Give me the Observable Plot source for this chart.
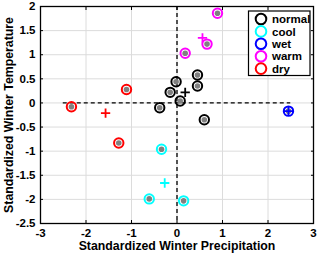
<!DOCTYPE html>
<html><head><meta charset="utf-8">
<script src="https://cdn.jsdelivr.net/npm/d3@7"></script>
<script src="https://cdn.jsdelivr.net/npm/@observablehq/plot@0.6"></script>
<style>
html,body{margin:0;padding:0;background:#fff;}
#chart{position:relative;width:320px;height:256px;}
</style>
</head><body><div id="chart"></div>
<script>
const categories = ["normal","cool","wet","warm","dry"];
const colors = ["#000000","#00ffff","#0000ff","#ff00ff","#ff0000"];

const normalX = [-0.02, 0.45, 0.45, -0.15, 0.07, -0.38, 0.60];
const normalY = [0.44, 0.58, 0.35, 0.22, 0.04, -0.10, -0.35];
const coolX = [-0.34, -0.61, 0.145];
const coolY = [-0.96, -1.99, -2.03];
const wetX = [2.45];
const wetY = [-0.17];
const warmX = [0.89, 0.66, 0.18];
const warmY = [1.86, 1.22, 1.03];
const dryX = [-2.32, -1.11, -1.28];
const dryY = [-0.08, 0.28, -0.83];

const meanX = [0.18, -0.27, 2.45, 0.56, -1.57];
const meanY = [0.22, -1.66, -0.17, 1.35, -0.21];

const xTicks = [-3,-2,-1,0,1,2,3];
const yTicks = [-2.5,-2,-1.5,-1,-0.5,0,0.5,1,1.5,2];
const refLineSpan = [-2.5, 2.5];
const xLabel = "Standardized Winter Precipitation";
const yLabel = "Standardized Winter Temperature";

const seriesX = [normalX, coolX, wetX, warmX, dryX];
const seriesY = [normalY, coolY, wetY, warmY, dryY];
const points = [];
categories.forEach((c,i)=>seriesX[i].forEach((x,j)=>points.push({cat:c,x,y:seriesY[i][j]})));
const means = categories.map((c,i)=>({cat:c,x:meanX[i],y:meanY[i]}));

const font = "'Liberation Sans', Arial, sans-serif";
const plot = Plot.plot({
  width: 320, height: 256,
  marginLeft: 40, marginRight: 7, marginTop: 6, marginBottom: 33,
  style: {fontFamily: font, fontSize: "11.5px", fontWeight: "bold", color: "#000", background: "#fff"},
  x: {domain: [-3,3]},
  y: {domain: [-2.5,2]},
  color: {domain: categories, range: colors},
  marks: [
    Plot.ruleX(xTicks, {stroke: "#dcdcdc", strokeWidth: 1}),
    Plot.ruleY(yTicks, {stroke: "#dcdcdc", strokeWidth: 1}),
    Plot.ruleY([0], {x1: refLineSpan[0], x2: refLineSpan[1], stroke: "#000", strokeWidth: 1.3, strokeDasharray: "4,3"}),
    Plot.ruleX([0], {stroke: "#000", strokeWidth: 1.3, strokeDasharray: "4,3"}),
    Plot.axisX({ticks: xTicks, tickSize: -3, tickPadding: 8, tickFormat: d => String(d), label: null}),
    Plot.axisX({anchor: "top", ticks: xTicks, tickSize: -3, tickFormat: () => "", label: null}),
    Plot.axisY({ticks: yTicks, tickSize: -3, tickPadding: 8, tickFormat: d => String(d), label: null}),
    Plot.axisY({anchor: "right", ticks: yTicks, tickSize: -3, tickFormat: () => "", label: null}),
    Plot.text([xLabel], {frameAnchor: "bottom", dy: 23, lineAnchor: "middle", textAnchor: "middle", text: d => d, fontSize: 12.3, fontWeight: "bold", fill: "#000"}),
    Plot.text([yLabel], {frameAnchor: "left", dx: -31, rotate: -90, lineAnchor: "middle", textAnchor: "middle", text: d => d, fontSize: 12.3, fontWeight: "bold", fill: "#000"}),
    Plot.frame({stroke: "#000", strokeWidth: 1.3}),
    Plot.dot(points, {x: "x", y: "y", r: 4.7, stroke: "cat", strokeWidth: 2, fill: "none"}),
    Plot.dot(points, {x: "x", y: "y", r: 2.8, fill: "#808080", stroke: "none"}),
    Plot.dot(means, {x: "x", y: "y", symbol: "plus", r: 3.1, stroke: "cat", strokeWidth: 1.8})
  ]
});
document.getElementById("chart").appendChild(plot);

// legend inside the axes (top-right)
const svg = d3.select(plot);
const lg = svg.append("g").attr("transform", "translate(248.5,11)").attr("text-anchor", "start");
lg.append("rect").attr("x", 0).attr("y", 0).attr("width", 61.5).attr("height", 64.5)
  .style("fill", "#ffffff").style("stroke", "#000000").style("stroke-width", "1.2px");
categories.forEach((c,i) => {
  const yy = 8 + i*12.4;
  lg.append("circle").attr("cx", 12.5).attr("cy", yy).attr("r", 5.3)
    .style("fill", "none").style("stroke", colors[i]).style("stroke-width", "2px");
  lg.append("text").attr("x", 23.5).attr("y", yy).attr("dy", "0.36em")
    .style("font-family", font).style("font-size", "11.5px").style("font-weight", "bold").style("fill", "#000").style("text-anchor", "start")
    .text(c);
});
</script>
</body></html>
